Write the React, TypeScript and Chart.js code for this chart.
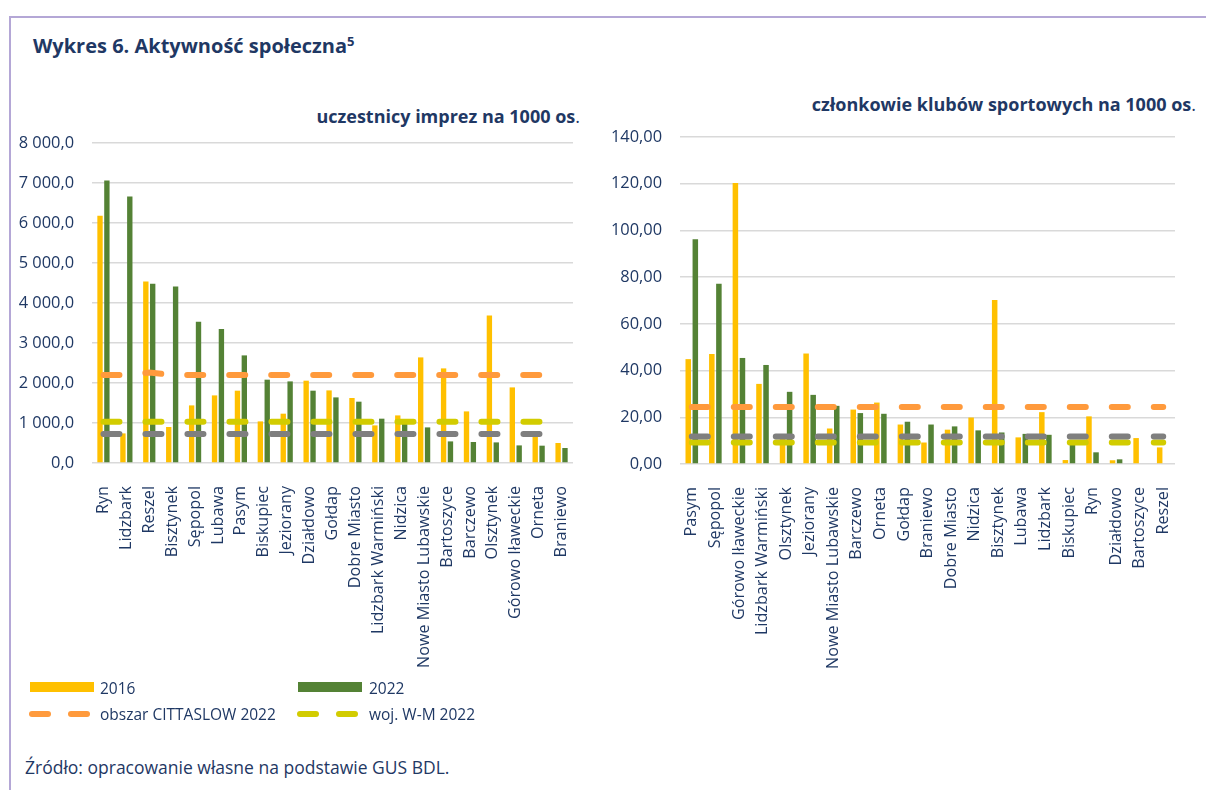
import React, { useEffect, useRef } from "react";
import { Chart, registerables } from "chart.js";

Chart.register(...registerables);

// ---------- DATA ----------
const leftCategories = [
  "Ryn", "Lidzbark", "Reszel", "Bisztynek", "Sępopol", "Lubawa", "Pasym", "Biskupiec",
  "Jeziorany", "Działdowo", "Gołdap", "Dobre Miasto", "Lidzbark Warmiński", "Nidzica",
  "Nowe Miasto Lubawskie", "Bartoszyce", "Barczewo", "Olsztynek", "Górowo Iławeckie",
  "Orneta", "Braniewo",
];
const left2016 = [6180, 740, 4540, 900, 1440, 1690, 1808, 1040, 1233, 2058, 1815, 1625, 940, 1190, 2640, 2365, 1290, 3690, 1890, 790, 500];
const left2022 = [7060, 6665, 4483, 4415, 3533, 3350, 2690, 2083, 2040, 1808, 1640, 1533, 1108, 980, 890, 540, 525, 515, 440, 433, 375];
const leftCittaslow = [2200, 2200, 2260, 2200, 2200, 2200, 2200, 2200, 2200, 2200, 2200, 2200, 2200, 2200, 2200, 2200, 2200, 2200, 2200, 2200, 2200];
const leftWojWM = [1030, 1030, 1030, 1030, 1030, 1030, 1030, 1030, 1030, 1030, 1030, 1030, 1030, 1030, 1030, 1030, 1030, 1030, 1030, 1030, 1030];
const leftGray = [725, 725, 725, 725, 725, 725, 725, 725, 725, 725, 725, 725, 725, 725, 725, 725, 725, 725, 725, 725, 725];
const leftTicks = [0, 1000, 2000, 3000, 4000, 5000, 6000, 7000, 8000];

const rightCategories = [
  "Pasym", "Sępopol", "Górowo Iławeckie", "Lidzbark Warmiński", "Olsztynek", "Jeziorany",
  "Nowe Miasto Lubawskie", "Barczewo", "Orneta", "Gołdap", "Braniewo", "Dobre Miasto",
  "Nidzica", "Bisztynek", "Lubawa", "Lidzbark", "Biskupiec", "Ryn", "Działdowo",
  "Bartoszyce", "Reszel",
];
const right2016 = [44.9, 47.1, 120.3, 34.3, 11.0, 47.3, 15.2, 23.3, 26.3, 16.9, 9.2, 14.7, 19.9, 70.2, 11.4, 22.2, 1.7, 20.4, 1.6, 11.1, 7.1];
const right2022 = [96.2, 77.2, 45.4, 42.4, 30.9, 29.6, 24.9, 21.8, 21.5, 18.1, 16.9, 16.1, 14.4, 13.5, 12.9, 12.5, 9.0, 5.0, 2.0, 0, 0];
const rightCittaslow = [24.4, 24.4, 24.4, 24.4, 24.4, 24.4, 24.4, 24.4, 24.4, 24.4, 24.4, 24.4, 24.4, 24.4, 24.4, 24.4, 24.4, 24.4, 24.4, 24.4, 24.4];
const rightWojWM = [9.2, 9.2, 9.2, 9.2, 9.2, 9.2, 9.2, 9.2, 9.2, 9.2, 9.2, 9.2, 9.2, 9.2, 9.2, 9.2, 9.2, 9.2, 9.2, 9.2, 9.2];
const rightGray = [11.8, 11.8, 11.8, 11.8, 11.8, 11.8, 11.8, 11.8, 11.8, 11.8, 11.8, 11.8, 11.8, 11.8, 11.8, 11.8, 11.8, 11.8, 11.8, 11.8, 11.8];
const rightTicks = [0, 20, 40, 60, 80, 100, 120, 140];

const seriesNames = ["2016", "2022", "obszar CITTASLOW 2022", "woj. W-M 2022"];

// ---------- STYLE ----------
const NAVY = "#1F3864";
const YELLOW = "#FFC000";
const GREEN = "#548235";
const ORANGE = "#FF9A3C";
const OLIVE = "#D2CC00";
const GRAY = "#7F7F7F";
const GRID = "#D9D9D9";
const FONT = '"Open Sans", sans-serif';

function fmtPl(v: number, decimals: number) {
  const s = v.toFixed(decimals);
  const [intPart, dec] = s.split(".");
  const grouped = intPart.replace(/\B(?=(\d{3})+(?!\d))/g, " ");
  return grouped + "," + dec;
}

type ChartCfg = {
  categories: string[];
  v2016: number[];
  v2022: number[];
  citta: number[];
  woj: number[];
  gray: number[];
  max: number;
  step: number;
  decimals: number;
  yWidth: number;
  yPad: number;
  xHeight: number;
  padTop: number;
  padRight: number;
};

function buildChart(canvas: HTMLCanvasElement, c: ChartCfg) {
  const lineDs = (label: string, data: number[], color: string, order: number) => ({
    type: "line" as const,
    label,
    data,
    borderColor: color,
    backgroundColor: color,
    borderWidth: 6,
    borderDash: [16, 26],
    borderCapStyle: "round" as const,
    pointRadius: 0,
    pointHoverRadius: 0,
    tension: 0,
    fill: false,
    order,
  });
  return new Chart(canvas, {
    type: "bar",
    data: {
      labels: c.categories,
      datasets: [
        lineDs("gray", c.gray, GRAY, 0),
        lineDs(seriesNames[3], c.woj, OLIVE, 1),
        lineDs(seriesNames[2], c.citta, ORANGE, 2),
        {
          type: "bar" as const,
          label: seriesNames[0],
          data: c.v2016,
          backgroundColor: YELLOW,
          categoryPercentage: 0.6,
          barPercentage: 0.78,
          order: 5,
        },
        {
          type: "bar" as const,
          label: seriesNames[1],
          data: c.v2022,
          backgroundColor: GREEN,
          categoryPercentage: 0.6,
          barPercentage: 0.78,
          order: 5,
        },
      ] as any,
    },
    options: {
      responsive: false,
      animation: false,
      devicePixelRatio: 1,
      layout: { padding: { top: c.padTop, right: c.padRight, left: 0, bottom: 0 } },
      plugins: { legend: { display: false }, tooltip: { enabled: false }, title: { display: false } },
      scales: {
        x: {
          offset: true,
          grid: { display: false },
          border: { display: false },
          ticks: {
            autoSkip: false,
            maxRotation: 90,
            minRotation: 90,
            padding: 15,
            color: NAVY,
            font: { family: FONT, size: 16.2 },
          },
          afterFit: (s: any) => {
            s.height = c.xHeight;
            s.paddingLeft = 0;
            s.paddingRight = 0;
          },
        },
        y: {
          min: 0,
          max: c.max,
          grid: { color: GRID, lineWidth: 1.5, drawTicks: false },
          border: { display: false },
          ticks: {
            stepSize: c.step,
            padding: c.yPad,
            color: NAVY,
            font: { family: FONT, size: 16.4 },
            callback: (v: any) => fmtPl(Number(v), c.decimals),
          },
          afterFit: (s: any) => {
            s.width = c.yWidth;
            s.paddingTop = 0;
            s.paddingBottom = 0;
          },
        },
      },
    },
  });
}

function ChartCanvas(props: { cfg: ChartCfg; style: React.CSSProperties; w: number; h: number }) {
  const ref = useRef<HTMLCanvasElement | null>(null);
  useEffect(() => {
    if (!ref.current) return;
    const ch = buildChart(ref.current, props.cfg);
    return () => ch.destroy();
  }, []);
  return <canvas ref={ref} width={props.w} height={props.h} style={{ position: "absolute", width: props.w, height: props.h, ...props.style }} />;
}

const leftCfg: ChartCfg = {
  categories: leftCategories,
  v2016: left2016,
  v2022: left2022,
  citta: leftCittaslow,
  woj: leftWojWM,
  gray: leftGray,
  max: leftTicks[leftTicks.length - 1],
  step: leftTicks[1] - leftTicks[0],
  decimals: 1,
  yWidth: 92,
  yPad: 18,
  xHeight: 217,
  padTop: 13,
  padRight: 7,
};

const rightCfg: ChartCfg = {
  categories: rightCategories,
  v2016: right2016,
  v2022: right2022,
  citta: rightCittaslow,
  woj: rightWojWM,
  gray: rightGray,
  max: rightTicks[rightTicks.length - 1],
  step: rightTicks[1] - rightTicks[0],
  decimals: 2,
  yWidth: 90,
  yPad: 18,
  xHeight: 216,
  padTop: 17,
  padRight: 15,
};

const txt: React.CSSProperties = { position: "absolute", color: NAVY, whiteSpace: "nowrap", lineHeight: "24px" };

function Dash(props: { left: number; top: number; color: string }) {
  return (
    <div style={{ position: "absolute", left: props.left, top: props.top, width: 22, height: 6, borderRadius: 3, background: props.color }} />
  );
}

export default function App() {
  return (
    <div style={{ position: "absolute", left: 0, top: 0, width: 1206, height: 790, background: "#fff", fontFamily: FONT, overflow: "hidden" }}>
      <div style={{ position: "absolute", left: 9, top: 16, width: 1220, height: 800, borderTop: "2px solid #B4A7D6", borderLeft: "2px solid #B4A7D6" }} />
      <div style={{ ...txt, left: 33, top: 34, fontWeight: 700, fontSize: 20 }}>
        Wykres 6. Aktywność społeczna<sup style={{ fontSize: 13, verticalAlign: "7px", lineHeight: 0 }}>5</sup>
      </div>
      <div style={{ ...txt, left: 200, width: 380, top: 104, textAlign: "right", fontWeight: 700, fontSize: 18 }}>
        uczestnicy imprez na 1000 os<span style={{ fontWeight: 400 }}>.</span>
      </div>
      <div style={{ ...txt, left: 700, width: 496, top: 92, textAlign: "right", fontWeight: 700, fontSize: 18 }}>
        członkowie klubów sportowych na 1000 os<span style={{ fontWeight: 400 }}>.</span>
      </div>

      <ChartCanvas cfg={leftCfg} style={{ left: 0, top: 130 }} w={580} h={550} />
      <ChartCanvas cfg={rightCfg} style={{ left: 590, top: 120 }} w={600} h={560} />

      {/* legend */}
      <div style={{ position: "absolute", left: 30, top: 682, width: 64, height: 10, background: YELLOW }} />
      <div style={{ ...txt, left: 100, top: 676, fontSize: 15.5 }}>{seriesNames[0]}</div>
      <div style={{ position: "absolute", left: 298, top: 682, width: 64, height: 10, background: GREEN }} />
      <div style={{ ...txt, left: 369, top: 676, fontSize: 15.5 }}>{seriesNames[1]}</div>
      <Dash left={29} top={711} color={ORANGE} />
      <Dash left={68} top={711} color={ORANGE} />
      <div style={{ ...txt, left: 100, top: 702, fontSize: 15.5 }}>{seriesNames[2]}</div>
      <Dash left={297} top={711} color={OLIVE} />
      <Dash left={336} top={711} color={OLIVE} />
      <div style={{ ...txt, left: 369, top: 702, fontSize: 15.5 }}>{seriesNames[3]}</div>

      <div style={{ ...txt, left: 25, top: 755, fontSize: 17.5 }}>Źródło: opracowanie własne na podstawie GUS BDL.</div>
    </div>
  );
}
